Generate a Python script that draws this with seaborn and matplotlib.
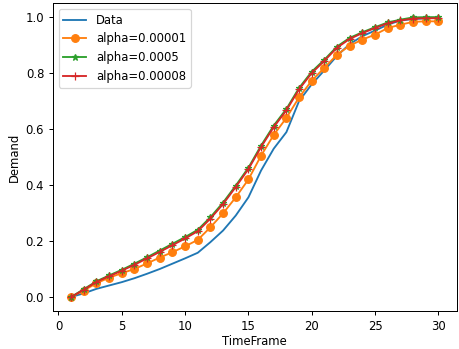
import pandas as pd
import matplotlib
matplotlib.use("Agg")
import matplotlib.pyplot as plt
import seaborn as sns

time_frame = list(range(1, 31))

data = [0.0, 0.013, 0.029, 0.041, 0.053, 0.067, 0.083, 0.100, 0.119, 0.138,
        0.158, 0.196, 0.2375, 0.291, 0.356, 0.452, 0.530, 0.589, 0.700, 0.760,
        0.810, 0.862, 0.904, 0.932, 0.952, 0.973, 0.988, 0.993, 0.996, 0.998]

alpha_00001 = [0.0, 0.023, 0.049, 0.069, 0.085, 0.100, 0.120, 0.141, 0.160, 0.181,
               0.204, 0.249, 0.299, 0.356, 0.420, 0.505, 0.579, 0.640, 0.713, 0.773,
               0.819, 0.866, 0.898, 0.920, 0.9375, 0.961, 0.973, 0.983, 0.985, 0.985]

alpha_0005 = [0.0, 0.028, 0.056, 0.077, 0.097, 0.119, 0.142, 0.166, 0.190, 0.214,
              0.240, 0.285, 0.3375, 0.398, 0.462, 0.541, 0.6125, 0.672, 0.747, 0.805,
              0.848, 0.895, 0.926, 0.946, 0.964, 0.981, 0.991, 0.999, 1.0, 1.0]

alpha_00008 = [0.0, 0.026, 0.054, 0.074, 0.094, 0.115, 0.138, 0.161, 0.185, 0.209,
               0.235, 0.280, 0.332, 0.393, 0.457, 0.536, 0.607, 0.667, 0.742, 0.800,
               0.844, 0.891, 0.922, 0.943, 0.961, 0.978, 0.988, 0.995, 0.996, 0.996]

df = pd.DataFrame({
    "TimeFrame": time_frame,
    "Data": data,
    "alpha=0.00001": alpha_00001,
    "alpha=0.0005": alpha_0005,
    "alpha=0.00008": alpha_00008,
})

plt.rcParams["font.size"] = 9.4

DPI = 89
fig, ax = plt.subplots(figsize=(459 / DPI, 349 / DPI), dpi=DPI)
fig.subplots_adjust(left=0.115, right=0.995, bottom=0.109, top=0.991)

# series name -> (colour, marker, marker size)
styles = {
    "Data": ("C0", None, None),
    "alpha=0.00001": ("C1", "o", 6.2),
    "alpha=0.0005": ("C2", "*", 5),
    "alpha=0.00008": ("C3", "+", 6),
}

for name, (color, marker, ms) in styles.items():
    kw = {}
    if marker is not None:
        kw = dict(marker=marker, markersize=ms, markeredgecolor=color,
                  markeredgewidth=1)
    sns.lineplot(data=df, x="TimeFrame", y=name, ax=ax, color=color,
                 label=name, linewidth=1.5, **kw)

ax.set_xlabel("TimeFrame", labelpad=1.8)
ax.set_ylabel("Demand")
ax.legend(loc="upper left")

fig.savefig("out.png", dpi=DPI)
